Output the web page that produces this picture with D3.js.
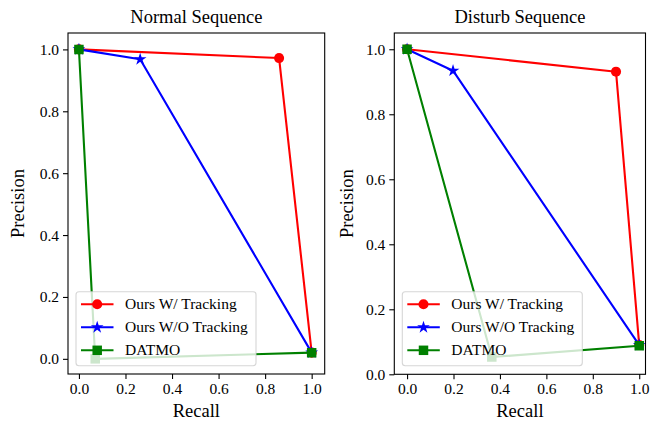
<!DOCTYPE html>
<html>
<head>
<meta charset="utf-8">
<script src="https://cdn.jsdelivr.net/npm/d3@7"></script>
<style>
  body { margin: 0; background: #fff; }
  svg { display: block; }
  svg text { font-family: "Liberation Serif", "Times New Roman", Times, serif !important; fill: #000; }
</style>
</head>
<body>
<script>
// Series names and colours
var seriesNames = ["Ours W/ Tracking", "Ours W/O Tracking", "DATMO"];
var seriesColors = ["#ff0000", "#0000ff", "#008000"];
var seriesMarkers = ["circle", "star", "square"];

// Normal sequence (recall, precision)
var normalTrackRecall = [0, 0.86, 1.0];
var normalTrackPrecision = [1.0, 0.972, 0.02];
var normalNoTrackRecall = [0, 0.263, 1.0];
var normalNoTrackPrecision = [1.0, 0.968, 0.02];
var normalDatmoRecall = [0, 0.07, 1.0];
var normalDatmoPrecision = [1.0, 0.0, 0.02];

// Disturb sequence (recall, precision)
var disturbTrackRecall = [0, 0.9, 1.0];
var disturbTrackPrecision = [1.0, 0.931, 0.09];
var disturbNoTrackRecall = [0, 0.198, 1.0];
var disturbNoTrackPrecision = [1.0, 0.934, 0.09];
var disturbDatmoRecall = [0, 0.365, 1.0];
var disturbDatmoPrecision = [1.0, 0.053, 0.088];

var xTicks = [0.0, 0.2, 0.4, 0.6, 0.8, 1.0];
var yTicks = [0.0, 0.2, 0.4, 0.6, 0.8, 1.0];

var svgWidth = 654;
var svgHeight = 422;

var svg = d3.select("body")
    .append("svg")
    .attr("width", svgWidth)
    .attr("height", svgHeight);

// panel layout
var panels = [
  {
    title: "Normal Sequence",
    box: {left: 68, right: 324.7, top: 33, bottom: 374},
    xDomain: [-0.047, 1.056],
    yDomain: [-0.049, 1.053],
    yLabelX: 18,
    recall: [normalTrackRecall, normalNoTrackRecall, normalDatmoRecall],
    precision: [normalTrackPrecision, normalNoTrackPrecision, normalDatmoPrecision]
  },
  {
    title: "Disturb Sequence",
    box: {left: 394.3, right: 645.5, top: 33, bottom: 374.3},
    xDomain: [-0.055, 1.027],
    yDomain: [0, 1.05],
    yLabelX: 347,
    recall: [disturbTrackRecall, disturbNoTrackRecall, disturbDatmoRecall],
    precision: [disturbTrackPrecision, disturbNoTrackPrecision, disturbDatmoPrecision]
  }
];

function markerPath(kind) {
  if (kind === "circle") return d3.symbol().type(d3.symbolCircle).size(80)();
  if (kind === "square") return d3.symbol().type(d3.symbolSquare).size(90)();
  return d3.symbol().type(d3.symbolStar).size(50)();
}

panels.forEach(function (p, pi) {
  var b = p.box;
  var xScale = d3.scaleLinear().domain(p.xDomain).range([b.left, b.right]);
  var yScale = d3.scaleLinear().domain(p.yDomain).range([b.bottom, b.top]);

  var g = svg.append("g");
  var clipId = "clip" + pi;
  g.append("clipPath").attr("id", clipId)
      .append("rect")
      .attr("x", b.left).attr("y", b.top)
      .attr("width", b.right - b.left).attr("height", b.bottom - b.top);

  // axes
  var bottomAxis = d3.axisBottom(xScale).tickValues(xTicks).tickFormat(d3.format(".1f"))
      .tickSizeInner(5).tickSizeOuter(0).tickPadding(4);
  var leftAxis = d3.axisLeft(yScale).tickValues(yTicks).tickFormat(d3.format(".1f"))
      .tickSizeInner(5).tickSizeOuter(0).tickPadding(4);

  var xg = g.append("g").attr("transform", "translate(0," + b.bottom + ")").call(bottomAxis);
  var yg = g.append("g").attr("transform", "translate(" + b.left + ",0)").call(leftAxis);
  [xg, yg].forEach(function (a) {
    a.attr("font-family", null).attr("font-size", null);
    a.select(".domain").remove();
    a.selectAll("line").attr("stroke", "#000").attr("stroke-width", 1.1);
    a.selectAll("text").attr("fill", "#000").style("font-size", "15.5px");
  });

  // lines + markers
  var plot = g.append("g").attr("clip-path", "url(#" + clipId + ")");
  var line = d3.line().x(function (d) { return xScale(d[0]); }).y(function (d) { return yScale(d[1]); });
  p.recall.forEach(function (rec, si) {
    var pts = rec.map(function (r, i) { return [r, p.precision[si][i]]; });
    plot.append("path")
        .datum(pts)
        .attr("d", line)
        .attr("fill", "none")
        .attr("stroke", seriesColors[si])
        .attr("stroke-width", 2.1)
        .attr("stroke-linejoin", "round");
    plot.selectAll(".m" + si)
        .data(pts)
        .enter()
        .append("path")
        .attr("class", "m" + si)
        .attr("d", markerPath(seriesMarkers[si]))
        .attr("transform", function (d) { return "translate(" + xScale(d[0]) + "," + yScale(d[1]) + ")"; })
        .attr("fill", seriesColors[si]);
  });

  // frame
  g.append("rect")
      .attr("x", b.left).attr("y", b.top)
      .attr("width", b.right - b.left).attr("height", b.bottom - b.top)
      .attr("fill", "none").attr("stroke", "#000").attr("stroke-width", 1.1);

  // title and labels
  g.append("text")
      .attr("x", (b.left + b.right) / 2).attr("y", 23)
      .attr("text-anchor", "middle").style("font-size", "18.5px")
      .text(p.title);
  g.append("text")
      .attr("x", (b.left + b.right) / 2).attr("y", 417)
      .attr("text-anchor", "middle").style("font-size", "18.5px")
      .text("Recall");
  g.append("text")
      .attr("transform", "translate(" + (p.yLabelX + 6) + "," + ((b.top + b.bottom) / 2) + ") rotate(-90)")
      .attr("text-anchor", "middle").style("font-size", "18.5px")
      .text("Precision");

  // legend
  var lx = b.left + 8, ly = 291.7, lw = 180, lh = 74;
  var legend = g.append("g");
  legend.append("rect")
      .attr("x", lx).attr("y", ly).attr("width", lw).attr("height", lh)
      .attr("rx", 3).attr("ry", 3)
      .attr("fill", "#fff").attr("fill-opacity", 0.8)
      .attr("stroke", "#cccccc").attr("stroke-opacity", 0.8).attr("stroke-width", 1.1);
  seriesNames.forEach(function (name, si) {
    var yy = ly + 12.6 + si * 23;
    legend.append("line")
        .attr("x1", lx + 5).attr("x2", lx + 37.5)
        .attr("y1", yy).attr("y2", yy)
        .attr("stroke", seriesColors[si]).attr("stroke-width", 2.1);
    legend.append("path")
        .attr("d", markerPath(seriesMarkers[si]))
        .attr("transform", "translate(" + (lx + 21.2) + "," + yy + ")")
        .attr("fill", seriesColors[si]);
    legend.append("text")
        .attr("x", lx + 49).attr("y", yy + 5)
        .style("font-size", "15.5px")
        .text(name);
  });
});
</script>
</body>
</html>
